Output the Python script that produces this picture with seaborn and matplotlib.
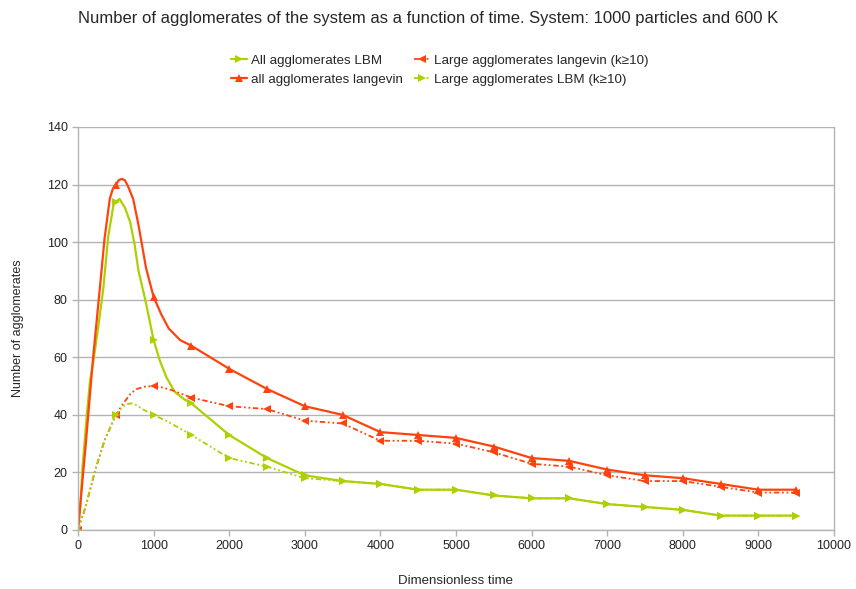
import matplotlib
matplotlib.use("Agg")
import matplotlib.pyplot as plt
import seaborn as sns
import pandas as pd
import numpy as np

# ---- data ----
t_all_lbm = [0, 30, 60, 120, 160, 200, 270, 335, 400, 470, 500, 550, 620, 690, 750, 800, 890, 1000, 1080, 1170, 1280, 1400, 1500,
             2000, 2500, 3000, 3500, 4000, 4500, 5000, 5500, 6000, 6500, 7000, 7500, 8000, 8500, 9000, 9500]
v_all_lbm = [0, 8, 22, 41, 52, 58, 71, 84, 102, 113, 114, 115, 112, 107, 99, 90, 80, 66, 59, 53, 48, 45.5, 44,
             33, 25, 19, 17, 16, 14, 14, 12, 11, 11, 9, 8, 7, 5, 5, 5]

t_all_lang = [0, 100, 200, 300, 350, 420, 460, 500, 540, 580, 620, 660, 730, 800, 900, 1000, 1100, 1200, 1350, 1500,
              2000, 2500, 3000, 3500, 4000, 4500, 5000, 5500, 6000, 6500, 7000, 7500, 8000, 8500, 9000, 9500]
v_all_lang = [0, 29, 60, 87, 101, 115, 118.5, 120, 121.5, 122, 121.5, 119.5, 115, 106, 91, 81, 75, 70, 66, 64,
              56, 49, 43, 40, 34, 33, 32, 29, 25, 24, 21, 19, 18, 16, 14, 14]

t_large_lang = [0, 100, 230, 350, 500, 600, 700, 780, 880, 1000, 1120, 1250, 1500,
                2000, 2500, 3000, 3500, 4000, 4500, 5000, 5500, 6000, 6500, 7000, 7500, 8000, 8500, 9000, 9500]
v_large_lang = [0, 8, 21, 31, 40, 44, 47.5, 49, 49.8, 50, 49.5, 48.5, 46,
                43, 42, 38, 37, 31, 31, 30, 27, 23, 22, 19, 17, 17, 15, 13, 13]

t_large_lbm = [0, 100, 230, 350, 500, 600, 660, 710, 780, 850, 1000, 1200, 1500,
               2000, 2500, 3000, 3500, 4000, 4500, 5000, 5500, 6000, 6500, 7000, 7500, 8000, 8500, 9000, 9500]
v_large_lbm = [0, 8, 21, 31, 40, 43, 43.8, 44, 43.3, 42, 40, 37.5, 33,
               25, 22, 18, 17, 16, 14, 14, 12, 11, 11, 9, 8, 7, 5, 5, 5]

labels = ["All agglomerates LBM", "all agglomerates langevin",
          "Large agglomerates langevin (k\u226510)", "Large agglomerates LBM (k\u226510)"]

title = "Number of agglomerates of the system as a function of time. System: 1000 particles and 600 K"
xlabel = "Dimensionless time"
ylabel = "Number of agglomerates"

RED = "#ff420e"
GREEN = "#aecf00"
GRID = "#b3b3b3"

sns.set_style("white")
plt.rcParams["font.family"] = ["Liberation Sans", "DejaVu Sans"]

fig = plt.figure(figsize=(8.56, 5.89), dpi=100)
ax = fig.add_axes([78 / 856, 59 / 589, (834 - 78) / 856, (530 - 127) / 589])

DASH = (0, (3, 1.5, 1, 1.5, 1, 1.5))
series = [
    (t_all_lbm, v_all_lbm, GREEN, "-", 1.6, ">", labels[0]),
    (t_all_lang, v_all_lang, RED, "-", 1.6, "^", labels[1]),
    (t_large_lang, v_large_lang, RED, DASH, 1.3, "<", labels[2]),
    (t_large_lbm, v_large_lbm, GREEN, DASH, 1.3, ">", labels[3]),
]

for t, v, c, ls, lw, mk, lab in series:
    df = pd.DataFrame({"t": t, "v": v})
    marks = [i for i, tt in enumerate(t) if tt % 500 == 0]
    sns.lineplot(data=df, x="t", y="v", ax=ax, color=c, linestyle=ls, linewidth=lw,
                 marker=mk, markersize=6, markevery=marks, markeredgewidth=0,
                 label=lab, sort=False, estimator=None)

ax.set_xlim(0, 10000)
ax.set_ylim(0, 140)
ax.set_xticks(np.arange(0, 10001, 1000))
ax.set_yticks(np.arange(0, 141, 20))
ax.yaxis.grid(True, color=GRID, linewidth=1)
ax.xaxis.grid(False)
for s in ["left", "bottom", "right"]:
    ax.spines[s].set_color(GRID)
    ax.spines[s].set_linewidth(1)
ax.spines["top"].set_visible(False)
ax.tick_params(axis="both", which="major", length=4, width=1, color=GRID,
               labelsize=9, labelcolor="#222222", direction="out", bottom=True, left=True)
ax.set_xlabel(xlabel, fontsize=9.5, labelpad=16)
ax.set_ylabel(ylabel, fontsize=9, labelpad=16)

fig.text(0.5, 1 - 18 / 589, title, ha="center", va="center", fontsize=12)

handles, labs = ax.get_legend_handles_labels()
ax.legend(handles, labs, ncol=2, loc="center", bbox_to_anchor=(0.514, 1 - 70 / 589),
          bbox_transform=fig.transFigure, frameon=False, fontsize=9.6,
          handlelength=1.2, handletextpad=0.3, columnspacing=0.8, labelspacing=0.5)

fig.savefig("out.png", dpi=100)
